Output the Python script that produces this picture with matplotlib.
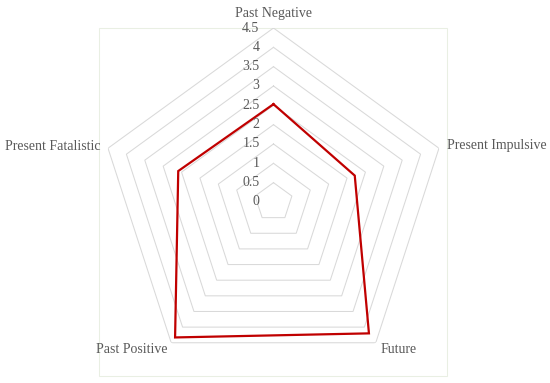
import numpy as np
import matplotlib
matplotlib.use('Agg')
import matplotlib.pyplot as plt
from matplotlib.patches import Rectangle

# data
categories = ['Past Negative', 'Present Impulsive', 'Future', 'Past Positive', 'Present Fatalistic']
scores = [2.53, 2.21, 4.2, 4.33, 2.59]
levels = [0, 0.5, 1, 1.5, 2, 2.5, 3, 3.5, 4, 4.5]
level_labels = ['0', '0.5', '1', '1.5', '2', '2.5', '3', '3.5', '4', '4.5']

plt.rcParams['font.family'] = ['Liberation Serif', 'DejaVu Serif']
text_col = '#595959'

fig = plt.figure(figsize=(5.5, 3.83), dpi=100)
ax = fig.add_axes([0.1809, 0.0183, 0.6327, 0.9086], projection='polar')
ax.set_theta_zero_location('N')
ax.set_theta_direction(-1)
ax.set_ylim(0, 4.5)
ax.set_xticks([])
ax.set_yticks([])
ax.grid(False)
ax.spines['polar'].set_visible(False)
ax.patch.set_alpha(0)

n = len(categories)
theta = [2 * np.pi * i / n for i in range(n)]
theta_closed = theta + [theta[0]]

# pentagon gridlines
for lv in levels[1:]:
    ax.plot(theta_closed, [lv] * (n + 1), color='#D9D9D9', lw=0.75, zorder=1)

# series
ax.plot(theta_closed, scores + [scores[0]], color='#C00000', lw=1.6, zorder=3,
        solid_joinstyle='miter')

# value labels along the top axis
for lv, lab in zip(levels, level_labels):
    ax.annotate(lab, (0, lv), xytext=(-14, 0), textcoords='offset pixels',
                ha='right', va='center', fontsize=10, color=text_col,
                annotation_clip=False)

# category labels
offsets = [(0, 15), (8, 3), (5, -7), (-4, -7), (-8, 2)]
aligns = ['center', 'left', 'left', 'right', 'right']
for t, name, off, ha in zip(theta, categories, offsets, aligns):
    ax.annotate(name, (t, 4.5), xytext=off, textcoords='offset pixels',
                ha=ha, va='center', fontsize=10, color=text_col,
                annotation_clip=False)

# plot area border
ax.add_patch(Rectangle((0, 0), 1, 1, transform=ax.transAxes, fill=False,
                       edgecolor='#E9EFE3', lw=0.75, clip_on=False, zorder=0))

fig.savefig('out.png', dpi=100)
